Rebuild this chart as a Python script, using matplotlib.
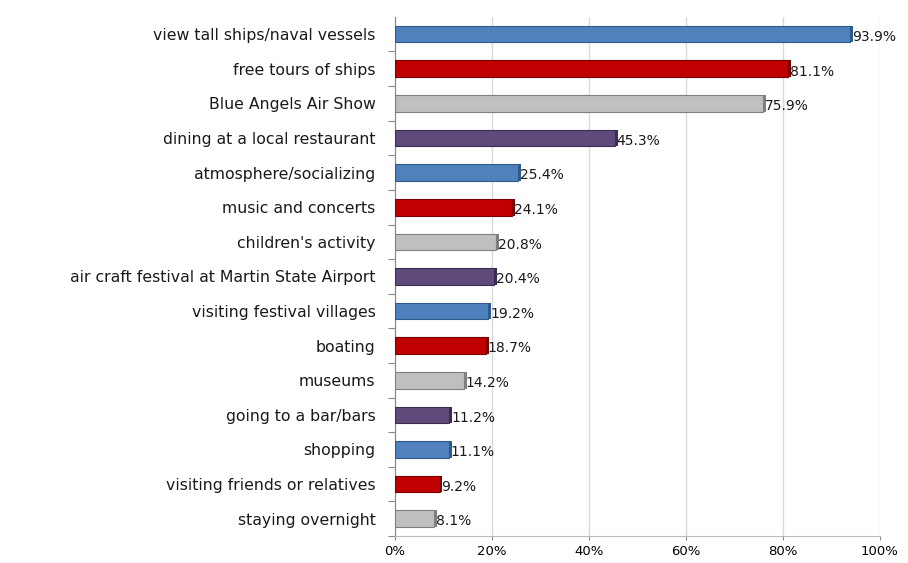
import matplotlib
matplotlib.use("Agg")
import matplotlib.pyplot as plt
import numpy as np

categories = ["view tall ships/naval vessels", "free tours of ships", "Blue Angels Air Show",
              "dining at a local restaurant", "atmosphere/socializing", "music and concerts",
              "children's activity", "air craft festival at Martin State Airport",
              "visiting festival villages", "boating", "museums", "going to a bar/bars",
              "shopping", "visiting friends or relatives", "staying overnight"]
values = [93.9, 81.1, 75.9, 45.3, 25.4, 24.1, 20.8, 20.4, 19.2, 18.7, 14.2, 11.2, 11.1, 9.2, 8.1]
xticks = [0, 20, 40, 60, 80, 100]

face = ["#4F81BD", "#C00000", "#BFBFBF", "#604A7B"]
side = ["#2F5A8C", "#7A0000", "#7F7F7F", "#3D2C52"]

plt.rcParams['font.family'] = ['DejaVu Sans']

fig = plt.figure(figsize=(9.08, 5.63), dpi=100)
ax = fig.add_axes([0.435, 0.048, 0.534, 0.922])

y = np.arange(len(categories))
fc = [face[i % 4] for i in range(len(categories))]
sc = [side[i % 4] for i in range(len(categories))]
ax.barh(y, values, height=0.48, color=fc, edgecolor=sc, linewidth=0.8, zorder=3)
ax.barh(y, [0.6] * len(values), left=values, height=0.48, color=sc, zorder=3)

for yi, v in zip(y, values):
    ax.text(v + 0.4, yi + 0.08, f"{v:.1f}%", va="center", ha="left", fontsize=10, color="#1a1a1a")

ax.set_ylim(len(categories) - 0.5, -0.5)
ax.set_xlim(0, 100)
ax.set_yticks(y + 0.5)
ax.set_yticklabels([])
ax.set_yticks(y, minor=True)
ax.set_yticklabels(categories, minor=True, fontsize=11.3, color="#1a1a1a")
ax.tick_params(axis="y", which="minor", length=0, pad=14)
ax.tick_params(axis="y", which="major", length=5, color="#888888")
ax.set_xticks(xticks)
ax.set_xticklabels([f"{t}%" for t in xticks], fontsize=9.5)
ax.tick_params(axis="x", length=3, color="#888888")
ax.grid(axis="x", color="#D9D9D9", linewidth=1, zorder=0)
for s in ["top", "right"]:
    ax.spines[s].set_visible(False)
ax.spines["left"].set_color("#888888")
ax.spines["bottom"].set_color("#BBBBBB")

fig.savefig("out.png", dpi=100)
